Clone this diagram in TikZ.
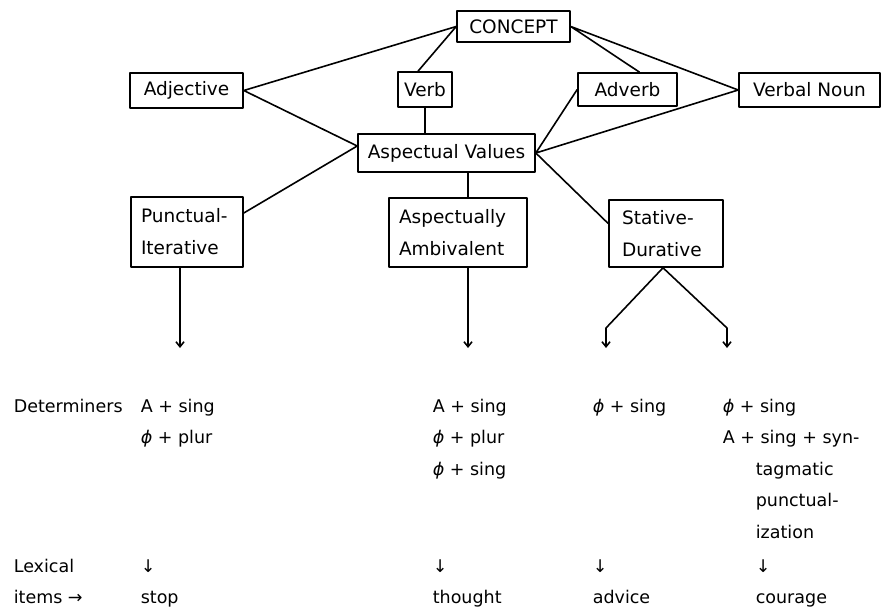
\documentclass[tikz,border=0pt]{standalone}
\usepackage{fontspec}
\setmainfont{DejaVu Sans}
\usetikzlibrary{arrows.meta}
\newcommand{\nul}{{\itshape ϕ}}
\begin{document}
\begin{tikzpicture}[x=1pt,y=-1pt,line width=1.6pt,line join=round,
	>={Straight Barb[length=5pt,width=8pt]},
	box/.style={draw,inner sep=0pt,font=\fontsize{18.5}{32}\selectfont},
	twobox/.style={box,align=left,inner xsep=10pt,text width=#1},
	lab/.style={anchor=base west,inner sep=0pt,font=\fontsize{17.5}{20}\selectfont}]
	\useasboundingbox (0,0) rectangle (886,608);
	% hop tren
	\node[box,minimum width=113pt,minimum height=31pt] (concept) at (513.5,26.5) {CONCEPT};
	\node[box,minimum width=113pt,minimum height=35pt] (adj) at (186.5,90.5) {Adjective};
	\node[box,minimum width=54pt,minimum height=35pt] (verb) at (425,89.5) {Verb};
	\node[box,minimum width=99pt,minimum height=33pt] (adverb) at (627.5,89.5) {Adverb};
	\node[box,minimum width=141pt,minimum height=34pt] (noun) at (809.5,90) {Verbal Noun};
	\node[box,minimum width=177pt,minimum height=38pt] (asp) at (446.5,153) {Aspectual Values};
	% hop duoi
	\node[twobox=92pt,minimum height=70pt] (punct) at (187,232) {Punctual-\\Iterative};
	\node[twobox=118pt,minimum height=69pt] (amb) at (458,232.5) {Aspectually\\Ambivalent};
	\node[twobox=88pt,inner xsep=13pt,minimum height=67pt] (stat) at (666,233.5) {Stative-\\Durative};
	% cac duong noi
	\coordinate (aspL) at ([yshift=7pt]asp.west);
	\draw (adj.east) -- (concept.west) (adj.east) -- (aspL);
	\draw ([xshift=-7pt]verb.north) -- (concept.west);
	\draw (verb.south) -- (verb.south |- asp.north);
	\draw (concept.east) -- ([xshift=12pt]adverb.north) (concept.east) -- (noun.west);
	\draw (adverb.west) -- (asp.east) -- (noun.west);
	\draw (asp.east) -- ([yshift=10pt]stat.west);
	\draw (aspL) -- ([yshift=19pt]punct.east);
	\coordinate (ambtop) at ([xshift=10pt]amb.north);
	\draw (ambtop) -- (ambtop |- asp.south);
	% mui ten
	\coordinate (pend) at (180,348);
	\coordinate (aend) at (468,348);
	\coordinate (sl) at (606,328);
	\coordinate (sr) at (727,328);
	\draw[->] (punct.south -| pend) -- (pend);
	\draw[->] (amb.south -| aend) -- (aend);
	\draw[->] ([xshift=-3pt]stat.south) -- (sl) -- (sl |- aend);
	\draw[->] ([xshift=-3pt]stat.south) -- (sr) -- (sr |- aend);
	% bang duoi
	\node[lab] (det) at (13,412) {Determiners};
	\node[lab] (da1) at (140,412) {A + sing};
	\node[lab] (da2) at (140,443.5) {\nul\ + plur};
	\node[lab] (db1) at (432,412) {A + sing};
	\node[lab] (db2) at (432,443.5) {\nul\ + plur};
	\node[lab] (db3) at (432,475) {\nul\ + sing};
	\node[lab] (dc1) at (592,412) {\nul\ + sing};
	\node[lab] (dd1) at (722,412) {\nul\ + sing};
	\node[lab] (dd2) at (722,443.5) {A + sing + syn-};
	\node[lab] (dd3) at (755,475) {tagmatic};
	\node[lab] (dd4) at (755,506.5) {punctual-};
	\node[lab] (dd5) at (755,538) {ization};
	\node[lab] (lex) at (13,572) {Lexical};
	\node[lab] (items) at (13,603) {items →};
	\foreach \x/\w/\n in {140/stop/a,432/thought/b,592/advice/c,755/courage/d}{
		\node[lab] (arr\n) at (\x,572) {↓};
		\node[lab] (word\n) at (\x,603) {\w};
	}
\end{tikzpicture}
\end{document}
